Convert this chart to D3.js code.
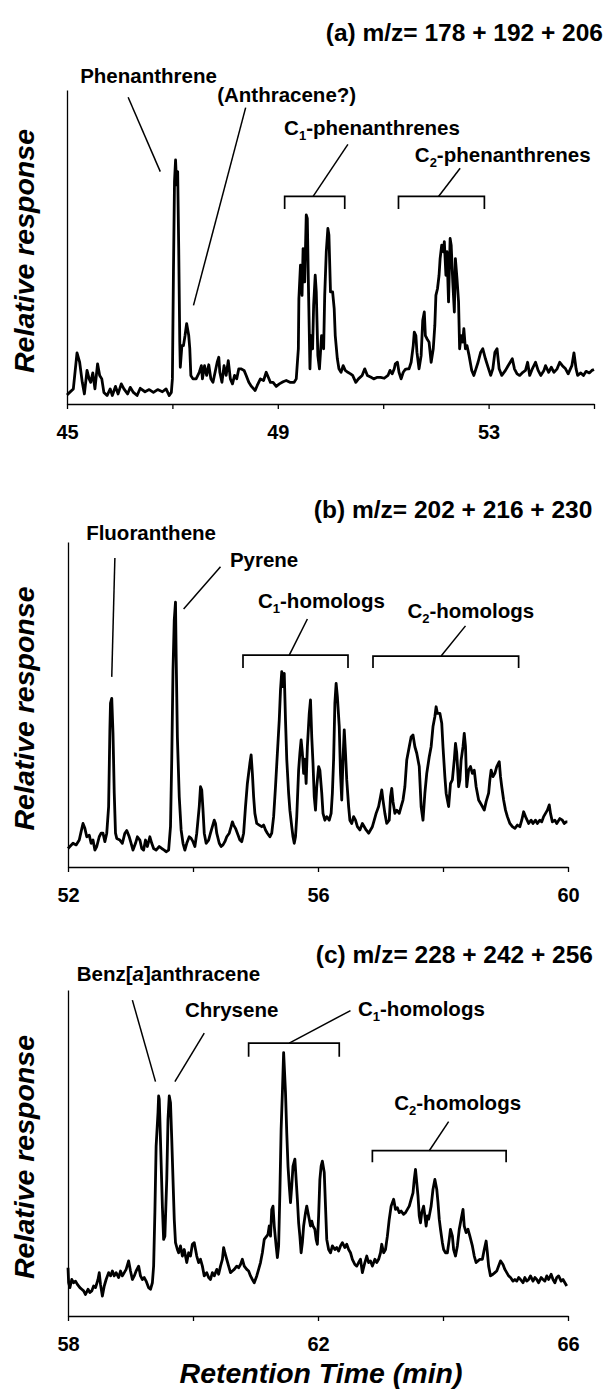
<!DOCTYPE html>
<html>
<head>
<meta charset="utf-8">
<script src="https://cdn.jsdelivr.net/npm/d3@7"></script>
<style>
  body { margin: 0; background: #fff; }
  svg text { font-family: "Liberation Sans", Arial, Helvetica, sans-serif; font-weight: bold; fill: #000; }
</style>
</head>
<body>
<div id="chart"></div>
<script>
// three GC-MS ion chromatograms
// retention time (min), relative response (% of y axis height)
const traceA = [[45.00,2.9],[45.05,3.7],[45.12,4.8],[45.19,16.3],[45.24,13.3],[45.29,6.9],[45.33,3.2],[45.38,10.7],[45.42,8.0],[45.45,6.9],[45.49,9.9],[45.53,4.8],[45.58,12.8],[45.62,9.1],[45.66,8.0],[45.70,3.7],[45.76,2.7],[45.82,4.8],[45.86,2.7],[45.92,5.6],[45.97,3.2],[46.03,6.4],[46.08,4.8],[46.15,3.2],[46.20,5.3],[46.26,3.7],[46.33,2.7],[46.39,5.0],[46.48,3.9],[46.56,4.6],[46.64,3.7],[46.72,4.6],[46.81,3.9],[46.88,4.8],[46.94,2.7],[46.98,3.7],[47.00,8.0],[47.02,42.1],[47.04,70.8],[47.06,77.7],[47.08,69.8],[47.10,74.0],[47.12,49.5],[47.14,19.7],[47.15,11.7],[47.18,18.6],[47.21,18.6],[47.24,21.8],[47.27,25.6],[47.31,21.8],[47.33,17.6],[47.35,9.1],[47.39,8.0],[47.45,8.0],[47.51,10.1],[47.55,12.2],[47.57,8.0],[47.61,12.2],[47.65,9.1],[47.69,12.5],[47.73,8.0],[47.77,6.9],[47.81,10.1],[47.85,13.3],[47.88,14.9],[47.90,10.1],[47.94,6.9],[47.98,12.2],[48.02,9.1],[48.06,13.8],[48.10,8.0],[48.14,6.4],[48.18,9.1],[48.22,8.0],[48.26,11.2],[48.30,11.2],[48.36,10.7],[48.40,9.1],[48.45,6.9],[48.50,5.6],[48.57,4.3],[48.61,5.9],[48.67,8.0],[48.73,7.5],[48.78,10.1],[48.82,8.5],[48.86,6.9],[48.91,6.9],[48.97,5.6],[49.03,6.4],[49.10,7.1],[49.16,7.5],[49.23,6.9],[49.31,6.9],[49.35,8.0],[49.39,17.6],[49.40,33.5],[49.43,44.2],[49.46,34.6],[49.48,49.5],[49.51,38.9],[49.54,60.2],[49.56,59.1],[49.58,38.9],[49.61,11.2],[49.63,21.8],[49.66,17.6],[49.68,31.4],[49.71,41.0],[49.73,35.7],[49.76,15.4],[49.79,11.2],[49.83,21.8],[49.87,17.6],[49.89,34.6],[49.92,48.5],[49.95,55.9],[49.97,53.8],[50.00,35.7],[50.04,35.7],[50.07,30.4],[50.09,21.8],[50.13,14.4],[50.16,11.2],[50.20,10.1],[50.24,12.2],[50.28,10.7],[50.33,10.1],[50.38,9.6],[50.42,9.1],[50.48,6.9],[50.53,8.0],[50.60,9.1],[50.65,11.2],[50.70,9.1],[50.77,8.5],[50.82,8.0],[50.89,8.5],[50.95,8.5],[51.02,8.2],[51.09,9.1],[51.13,10.7],[51.17,9.6],[51.21,11.2],[51.23,12.8],[51.27,13.3],[51.30,10.1],[51.34,8.0],[51.38,10.1],[51.42,11.0],[51.46,11.2],[51.49,11.2],[51.53,13.3],[51.57,18.6],[51.59,22.9],[51.62,21.8],[51.64,16.5],[51.68,11.2],[51.72,15.4],[51.75,26.6],[51.78,29.3],[51.80,21.8],[51.83,20.8],[51.87,19.7],[51.91,13.3],[51.95,17.6],[51.98,25.1],[52.00,34.6],[52.03,36.7],[52.06,41.0],[52.08,46.3],[52.11,50.6],[52.14,48.5],[52.16,51.7],[52.19,41.0],[52.21,48.5],[52.24,32.5],[52.27,52.7],[52.29,50.6],[52.32,38.9],[52.35,29.3],[52.37,46.3],[52.40,39.9],[52.43,32.5],[52.45,17.6],[52.48,21.8],[52.51,19.7],[52.53,24.0],[52.56,17.6],[52.59,18.6],[52.63,15.4],[52.68,10.7],[52.72,9.1],[52.76,11.2],[52.80,13.3],[52.85,16.5],[52.89,17.6],[52.94,14.4],[53.00,11.2],[53.04,9.1],[53.08,11.2],[53.12,16.5],[53.16,17.6],[53.20,11.2],[53.25,9.1],[53.32,10.7],[53.37,12.2],[53.41,13.3],[53.45,14.4],[53.49,11.2],[53.54,9.6],[53.59,9.1],[53.65,10.1],[53.70,10.7],[53.74,13.3],[53.78,9.1],[53.83,11.2],[53.89,13.3],[53.94,10.7],[53.99,9.1],[54.05,10.7],[54.08,12.2],[54.14,10.1],[54.19,11.7],[54.24,10.1],[54.30,11.2],[54.35,13.3],[54.40,12.2],[54.46,11.2],[54.51,9.6],[54.58,12.2],[54.62,16.3],[54.66,11.2],[54.69,9.1],[54.75,9.9],[54.80,9.1],[54.85,10.4],[54.91,9.9],[54.96,10.7],[55.00,11.0]];

const traceB = [[52.00,5.7],[52.03,6.3],[52.08,7.3],[52.13,6.8],[52.18,8.3],[52.21,10.9],[52.24,13.4],[52.27,11.9],[52.30,9.3],[52.34,9.8],[52.37,7.3],[52.40,8.3],[52.43,5.2],[52.46,6.3],[52.50,9.3],[52.53,10.4],[52.56,10.4],[52.59,7.8],[52.62,10.4],[52.65,18.6],[52.67,42.2],[52.68,50.4],[52.70,51.9],[52.72,41.1],[52.74,22.7],[52.76,10.4],[52.78,8.8],[52.83,8.3],[52.87,7.3],[52.91,10.4],[52.94,11.2],[52.98,9.3],[53.01,7.3],[53.04,5.2],[53.08,7.3],[53.11,9.3],[53.15,8.3],[53.18,5.7],[53.21,5.2],[53.24,8.3],[53.27,6.3],[53.31,9.3],[53.34,7.3],[53.37,5.7],[53.41,5.2],[53.46,6.3],[53.50,5.7],[53.54,5.2],[53.57,4.7],[53.61,5.2],[53.64,12.4],[53.66,33.2],[53.68,60.6],[53.70,76.0],[53.72,81.5],[53.73,65.7],[53.75,40.0],[53.78,21.6],[53.81,11.4],[53.84,7.3],[53.87,5.2],[53.90,7.3],[53.94,9.3],[53.97,8.8],[54.00,7.8],[54.03,6.3],[54.06,10.4],[54.10,18.6],[54.12,24.7],[54.14,23.7],[54.16,17.5],[54.18,10.4],[54.21,7.3],[54.25,8.3],[54.28,10.4],[54.31,12.4],[54.34,14.4],[54.36,13.4],[54.38,10.4],[54.42,7.3],[54.45,6.3],[54.48,6.8],[54.51,7.8],[54.54,9.3],[54.58,10.4],[54.61,12.4],[54.63,13.9],[54.65,12.9],[54.68,11.9],[54.71,10.4],[54.75,8.3],[54.78,7.8],[54.81,10.4],[54.84,18.6],[54.87,25.7],[54.91,31.9],[54.93,34.5],[54.95,28.8],[54.97,21.6],[54.99,16.5],[55.02,13.4],[55.06,12.9],[55.10,12.4],[55.13,12.9],[55.16,11.4],[55.19,10.4],[55.23,9.3],[55.26,10.4],[55.29,15.5],[55.32,24.7],[55.35,35.0],[55.38,45.2],[55.40,54.5],[55.42,60.1],[55.44,55.5],[55.46,59.6],[55.48,45.2],[55.50,33.2],[55.53,22.7],[55.55,17.5],[55.58,12.4],[55.60,9.3],[55.62,7.3],[55.64,9.3],[55.66,15.5],[55.69,29.8],[55.71,35.0],[55.73,39.1],[55.75,35.0],[55.77,28.8],[55.79,33.2],[55.81,25.7],[55.83,37.0],[55.86,47.3],[55.88,51.4],[55.90,40.0],[55.92,31.9],[55.94,21.6],[55.96,17.5],[55.98,24.7],[56.01,30.9],[56.03,29.8],[56.06,22.7],[56.08,16.5],[56.11,14.4],[56.14,15.5],[56.18,14.4],[56.21,16.5],[56.23,22.7],[56.25,33.2],[56.27,50.4],[56.29,56.5],[56.31,52.4],[56.34,43.2],[56.36,28.8],[56.38,20.6],[56.40,33.2],[56.42,42.2],[56.44,35.0],[56.46,26.8],[56.49,18.6],[56.51,14.4],[56.54,13.4],[56.57,15.5],[56.60,14.4],[56.63,12.4],[56.67,11.4],[56.71,13.4],[56.74,12.4],[56.77,11.4],[56.81,10.4],[56.84,11.4],[56.87,12.4],[56.90,14.4],[56.93,16.5],[56.97,18.6],[57.00,21.6],[57.02,23.7],[57.04,20.6],[57.07,16.5],[57.10,13.4],[57.14,14.4],[57.16,21.6],[57.18,24.2],[57.20,20.1],[57.23,16.5],[57.26,17.5],[57.30,16.5],[57.33,18.6],[57.36,20.6],[57.39,24.7],[57.42,32.9],[57.46,37.0],[57.49,40.0],[57.52,40.6],[57.55,37.0],[57.58,35.0],[57.62,30.9],[57.65,18.6],[57.68,14.4],[57.71,22.7],[57.74,28.8],[57.78,33.9],[57.81,37.0],[57.84,43.2],[57.87,46.3],[57.89,49.3],[57.91,47.3],[57.95,47.3],[57.98,44.2],[58.00,37.0],[58.03,27.8],[58.05,22.7],[58.09,18.6],[58.12,25.7],[58.15,26.8],[58.18,32.9],[58.20,38.0],[58.22,35.0],[58.25,24.7],[58.27,26.8],[58.29,32.9],[58.32,37.0],[58.34,41.1],[58.36,37.0],[58.38,24.7],[58.41,29.8],[58.44,30.9],[58.47,28.8],[58.50,29.8],[58.53,24.7],[58.57,20.6],[58.60,19.6],[58.63,18.6],[58.66,17.5],[58.69,20.1],[58.73,22.7],[58.75,26.8],[58.77,29.8],[58.80,27.8],[58.83,28.8],[58.86,30.9],[58.90,32.4],[58.92,27.8],[58.94,24.7],[58.97,20.6],[59.00,17.5],[59.03,15.5],[59.07,13.4],[59.11,12.4],[59.15,11.9],[59.19,12.9],[59.23,12.4],[59.26,14.4],[59.29,17.0],[59.32,15.5],[59.37,13.4],[59.41,14.4],[59.44,13.4],[59.48,14.4],[59.51,13.4],[59.55,14.4],[59.58,13.9],[59.61,15.5],[59.64,16.5],[59.67,17.5],[59.70,19.1],[59.72,16.5],[59.75,13.9],[59.79,14.4],[59.82,13.4],[59.87,14.9],[59.91,14.4],[59.94,13.4],[59.97,13.9],[59.99,13.9]];

const traceC = [[58.00,14.8],[58.01,10.2],[58.03,8.7],[58.06,11.2],[58.09,10.2],[58.12,10.7],[58.15,9.7],[58.19,8.7],[58.22,8.2],[58.25,7.7],[58.28,6.6],[58.32,8.2],[58.35,7.2],[58.38,7.7],[58.41,9.2],[58.44,8.7],[58.48,11.2],[58.50,13.3],[58.52,9.7],[58.55,6.1],[58.58,9.2],[58.61,11.2],[58.65,13.3],[58.68,12.3],[58.71,13.8],[58.74,12.3],[58.77,13.3],[58.81,11.8],[58.84,13.8],[58.87,12.3],[58.90,13.3],[58.93,14.3],[58.97,16.9],[59.00,13.8],[59.03,11.2],[59.06,12.3],[59.09,13.8],[59.13,15.3],[59.16,12.3],[59.19,11.2],[59.22,11.8],[59.25,10.7],[59.29,8.7],[59.32,8.2],[59.35,10.2],[59.37,15.3],[59.39,31.7],[59.41,52.1],[59.44,62.4],[59.45,67.5],[59.46,66.5],[59.47,60.3],[59.49,47.0],[59.51,33.7],[59.53,23.5],[59.55,24.5],[59.58,41.9],[59.60,60.3],[59.62,67.5],[59.64,65.4],[59.66,54.2],[59.68,41.9],[59.70,29.7],[59.72,22.5],[59.75,20.4],[59.77,19.4],[59.80,21.5],[59.83,18.4],[59.86,20.4],[59.90,16.4],[59.93,19.4],[59.96,18.4],[59.99,22.0],[60.02,22.5],[60.06,18.4],[60.09,16.4],[60.12,17.4],[60.15,15.3],[60.18,12.3],[60.22,13.3],[60.25,11.8],[60.28,11.2],[60.31,13.3],[60.34,12.3],[60.38,14.3],[60.41,12.8],[60.44,15.3],[60.47,17.4],[60.49,21.0],[60.51,19.4],[60.54,17.4],[60.57,15.3],[60.60,13.3],[60.63,13.8],[60.66,14.3],[60.70,15.3],[60.73,14.8],[60.76,15.8],[60.79,17.4],[60.82,15.3],[60.86,14.3],[60.89,13.8],[60.92,12.3],[60.95,11.2],[60.98,10.2],[61.02,12.3],[61.05,14.3],[61.08,16.4],[61.11,19.4],[61.14,23.5],[61.18,24.5],[61.20,25.1],[61.22,27.6],[61.24,24.5],[61.26,32.7],[61.28,33.7],[61.30,27.6],[61.33,21.5],[61.35,17.9],[61.37,21.5],[61.39,37.8],[61.41,57.3],[61.43,68.5],[61.45,80.8],[61.48,68.5],[61.50,56.2],[61.52,46.0],[61.54,39.9],[61.56,34.8],[61.58,39.9],[61.60,46.0],[61.63,48.1],[61.65,41.9],[61.67,35.8],[61.69,28.6],[61.71,24.5],[61.73,19.4],[61.75,22.5],[61.77,27.6],[61.80,31.7],[61.82,33.7],[61.84,31.7],[61.86,29.7],[61.88,27.6],[61.90,29.1],[61.92,27.6],[61.95,26.6],[61.97,23.5],[61.99,22.0],[62.01,30.7],[62.03,41.9],[62.05,46.0],[62.07,47.5],[62.10,44.0],[62.12,33.7],[62.14,23.5],[62.17,20.4],[62.20,19.4],[62.23,21.5],[62.27,20.4],[62.30,21.0],[62.33,19.9],[62.36,21.5],[62.39,22.5],[62.43,21.0],[62.46,22.0],[62.49,20.4],[62.52,19.4],[62.55,17.4],[62.59,15.8],[62.62,15.3],[62.65,16.4],[62.68,17.4],[62.71,13.3],[62.75,16.4],[62.78,18.4],[62.81,16.4],[62.84,16.9],[62.87,15.3],[62.91,17.4],[62.94,16.4],[62.97,17.4],[63.00,19.4],[63.02,22.0],[63.05,19.4],[63.08,20.4],[63.11,24.5],[63.14,29.7],[63.17,33.7],[63.21,35.8],[63.24,32.7],[63.27,33.2],[63.30,31.7],[63.33,32.2],[63.37,31.2],[63.40,31.7],[63.43,32.7],[63.46,33.7],[63.49,35.8],[63.52,37.8],[63.54,41.9],[63.56,45.0],[63.58,40.9],[63.60,36.8],[63.62,30.7],[63.64,28.6],[63.66,31.7],[63.69,33.7],[63.71,30.7],[63.73,27.6],[63.75,30.7],[63.77,29.7],[63.79,31.7],[63.81,33.7],[63.84,38.9],[63.87,41.9],[63.90,38.9],[63.92,34.8],[63.94,29.7],[63.96,26.6],[63.99,22.5],[64.01,20.4],[64.04,19.4],[64.07,19.4],[64.10,23.5],[64.12,26.6],[64.15,24.5],[64.17,20.4],[64.20,18.4],[64.23,21.5],[64.26,26.6],[64.29,29.7],[64.32,32.7],[64.34,27.6],[64.37,25.6],[64.40,26.6],[64.43,24.5],[64.47,21.5],[64.50,18.4],[64.53,16.4],[64.56,16.9],[64.59,17.4],[64.63,17.4],[64.66,20.4],[64.69,23.0],[64.71,19.4],[64.73,15.3],[64.76,12.3],[64.80,12.8],[64.83,13.3],[64.86,13.8],[64.89,15.3],[64.92,16.9],[64.96,15.8],[64.99,14.3],[65.02,13.3],[65.05,12.3],[65.08,11.8],[65.12,10.7],[65.15,11.2],[65.18,10.7],[65.21,11.8],[65.24,11.2],[65.28,10.2],[65.31,11.8],[65.34,10.7],[65.37,11.2],[65.40,12.3],[65.44,10.7],[65.47,11.8],[65.50,11.2],[65.53,10.2],[65.57,11.8],[65.60,11.2],[65.63,10.7],[65.66,12.3],[65.69,11.2],[65.73,12.8],[65.76,11.2],[65.79,10.2],[65.82,11.8],[65.85,12.3],[65.89,10.7],[65.92,11.2],[65.95,10.2],[65.98,9.2]];

const titles = ["(a) m/z= 178 + 192 + 206", "(b) m/z= 202 + 216 + 230", "(c) m/z= 228 + 242 + 256"];
// title anchor (right end) in data units [min, %]
const titleAt = [[55.17, 115.6], [60.39, 107.4], [66.40, 108.3]];

const xDomains = [[45, 55], [52, 60], [58, 66]];
const tickValues = [[45, 47, 49, 51, 53, 55], [52, 54, 56, 58, 60], [58, 60, 62, 64, 66]];
const tickLabels = [[45, 49, 53], [52, 56, 60], [58, 62, 66]];

// peak labels: "_1" = subscript, "*a*" = italic
// at: left end of label; line: leader line; bracket: [from, to, level, tick bottom]
const calloutsA = [
  { text: "Phenanthrene", at: [45.25, 102.2], line: [[46.16, 97.7], [46.77, 74.0]] },
  { text: "(Anthracene?)", at: [47.85, 96.2], line: [[48.39, 94.4], [47.40, 31.4]] },
  { text: "C_1-phenanthrenes", at: [49.12, 85.7], line: [[49.67, 66.1], [50.33, 82.7]], bracket: [49.13, 50.27, 66.1, 62.1] },
  { text: "C_2-phenanthrenes", at: [51.60, 77.1], line: [[52.05, 66.1], [52.46, 75.1]], bracket: [51.29, 52.92, 66.1, 62.1] }
];
const calloutsB = [
  { text: "Fluoranthene", at: [52.29, 100.6], line: [[52.75, 95.1], [52.70, 58.5]] },
  { text: "Pyrene", at: [54.59, 92.3], line: [[54.44, 92.4], [53.85, 79.4]] },
  { text: "C_1-homologs", at: [55.04, 79.7], line: [[55.54, 65.2], [55.83, 76.3]], bracket: [54.80, 56.48, 65.2, 61.2] },
  { text: "C_2-homologs", at: [57.43, 76.6], line: [[57.97, 64.9], [58.36, 74.2]], bracket: [56.88, 59.21, 64.9, 61.2] }
];
const calloutsC = [
  { text: "Benz[*a*]anthracene", at: [58.14, 102.8], line: [[59.03, 96.9], [59.40, 71.9]] },
  { text: "Chrysene", at: [59.87, 91.7], line: [[60.18, 86.8], [59.71, 71.9]] },
  { text: "C_1-homologs", at: [62.64, 92.0], line: [[61.54, 83.7], [62.52, 93.7]], bracket: [60.89, 62.34, 83.7, 79.5] },
  { text: "C_2-homologs", at: [63.22, 63.2], line: [[63.78, 50.7], [64.09, 59.6]], bracket: [62.87, 65.01, 50.7, 47.2] }
];

const yLabel = "Relative response";
const xLabel = "Retention Time (min)";

// ---- layout ----
const svgWidth = 615, svgHeight = 1398;
const panels = [
  { trace: traceA, callouts: calloutsA, left: 67, right: 594, top: 90, bottom: 404 },
  { trace: traceB, callouts: calloutsB, left: 68, right: 568, top: 542, bottom: 867 },
  { trace: traceC, callouts: calloutsC, left: 68, right: 568, top: 990, bottom: 1316 }
];

const svg = d3.select("#chart").append("svg")
  .attr("width", svgWidth)
  .attr("height", svgHeight);

// write a label with subscripts/italics as tspans
function richText(sel, str) {
  const parts = str.split(/(_\d|\*[^*]+\*)/).filter(s => s.length);
  let lowered = false;
  parts.forEach(p => {
    if (p[0] == "_") {
      sel.append("tspan").text(p.slice(1)).attr("font-size", 13).attr("dy", 5);
      lowered = true;
    } else {
      const t = sel.append("tspan");
      if (p[0] == "*") t.text(p.slice(1, -1)).attr("font-style", "italic");
      else t.text(p);
      if (lowered) { t.attr("dy", -5); lowered = false; }
    }
  });
}

panels.forEach(function (p, i) {
  const x = d3.scaleLinear().domain(xDomains[i]).range([p.left, p.right]);
  const y = d3.scaleLinear().domain([0, 100]).range([p.bottom, p.top]);
  const g = svg.append("g");

  // x axis, ticks every 2 min, labels every 4
  const xAxis = g.append("g")
    .attr("transform", `translate(0,${p.bottom})`)
    .call(d3.axisBottom(x)
      .tickValues(tickValues[i])
      .tickSize(5)
      .tickSizeOuter(0)
      .tickPadding(16)
      .tickFormat(d => tickLabels[i].includes(d) ? d : ""));
  xAxis.selectAll("line, path").attr("stroke", "#000").attr("stroke-width", 1.3);
  xAxis.selectAll("text")
    .attr("font-size", 20)
    .attr("font-family", "'Liberation Sans', Arial, sans-serif")
    .attr("font-weight", "bold")
    .attr("fill", "#000");

  // y axis is a bare line
  const yAxis = g.append("g")
    .attr("transform", `translate(${p.left},0)`)
    .call(d3.axisLeft(y).tickValues([]).tickSizeOuter(0));
  yAxis.select("path").attr("stroke", "#000").attr("stroke-width", 1.3);

  // y label
  g.append("text")
    .text(yLabel)
    .attr("transform", `translate(34,${(p.top + p.bottom) / 2 + 4}) rotate(-90)`)
    .attr("text-anchor", "middle")
    .attr("font-size", 28.5)
    .attr("font-style", "italic");

  // title
  g.append("text")
    .text(titles[i])
    .attr("x", x(titleAt[i][0]))
    .attr("y", y(titleAt[i][1]))
    .attr("text-anchor", "end")
    .attr("font-size", 24.5);

  // trace
  const line = d3.line().x(d => x(d[0])).y(d => y(d[1]));
  g.append("path")
    .datum(p.trace)
    .attr("d", line)
    .attr("fill", "none")
    .attr("stroke", "#000")
    .attr("stroke-width", 2.8)
    .attr("stroke-linejoin", "round");

  // callouts
  p.callouts.forEach(function (c) {
    const t = g.append("text")
      .attr("x", x(c.at[0]))
      .attr("y", y(c.at[1]))
      .attr("font-size", 20.5);
    richText(t, c.text);

    g.append("line")
      .attr("x1", x(c.line[0][0])).attr("y1", y(c.line[0][1]))
      .attr("x2", x(c.line[1][0])).attr("y2", y(c.line[1][1]))
      .attr("stroke", "#000")
      .attr("stroke-width", 1.5);

    if (c.bracket) {
      const b = c.bracket;
      g.append("path")
        .attr("d", `M${x(b[0])},${y(b[3])}V${y(b[2])}H${x(b[1])}V${y(b[3])}`)
        .attr("fill", "none")
        .attr("stroke", "#000")
        .attr("stroke-width", 1.7);
    }
  });
});

// shared x label
svg.append("text")
  .text(xLabel)
  .attr("x", 321)
  .attr("y", 1383)
  .attr("text-anchor", "middle")
  .attr("font-size", 28.5)
  .attr("font-style", "italic");
</script>
</body>
</html>
